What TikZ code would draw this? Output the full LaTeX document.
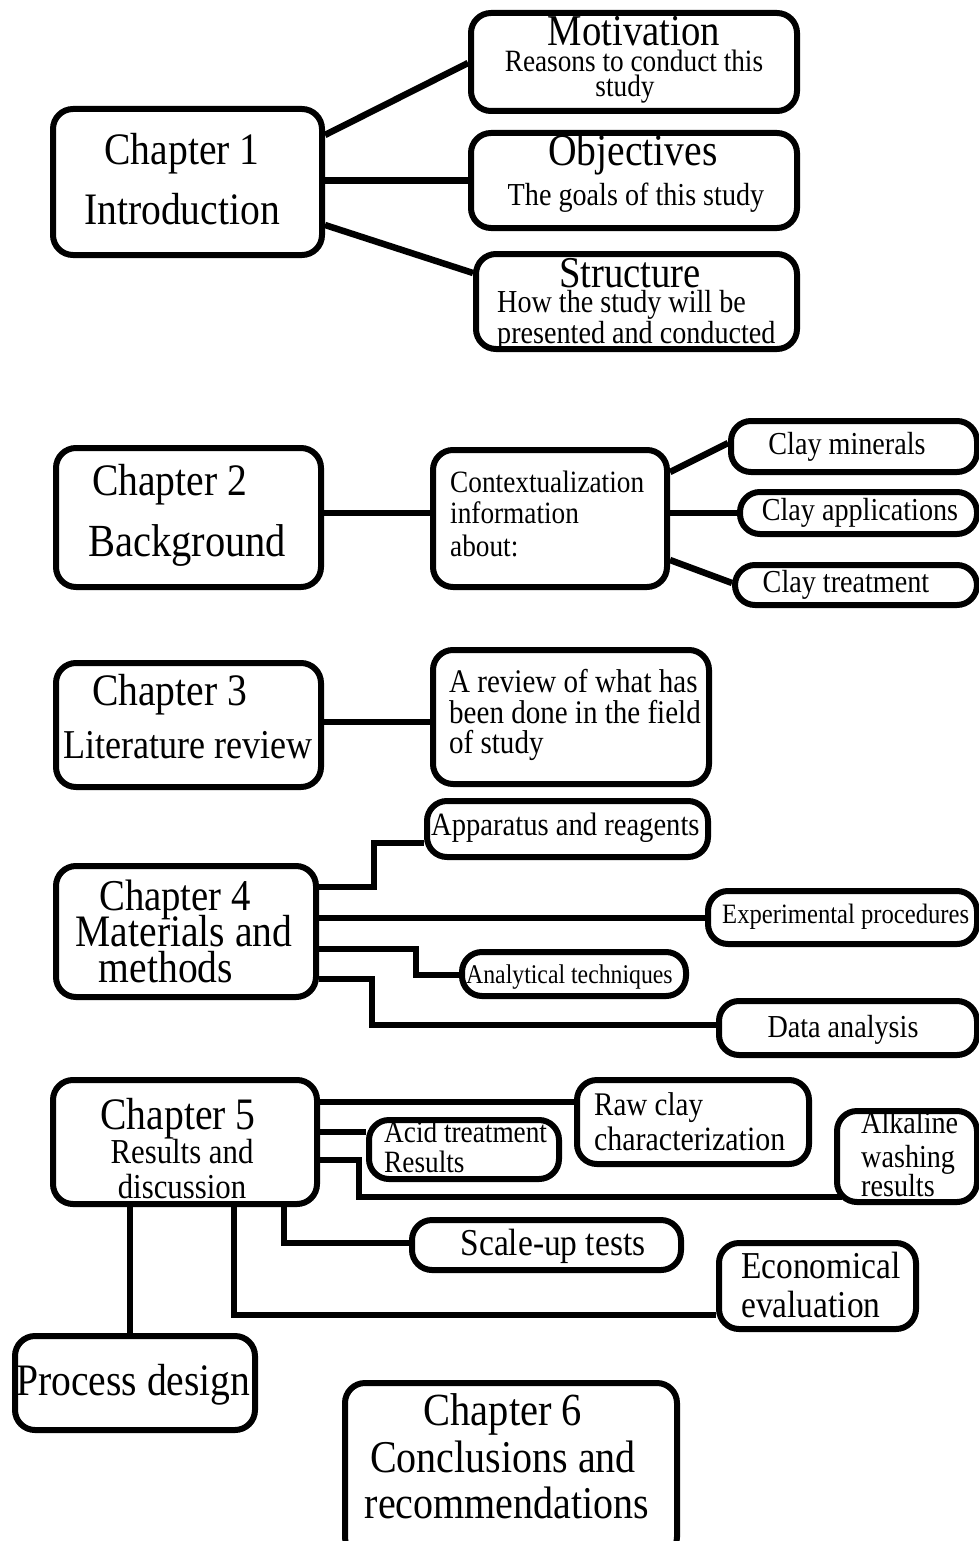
\documentclass[tikz,border=0pt]{standalone}
\usepackage{fontspec}
\setmainfont[FakeStretch=0.88]{Liberation Serif}
\usetikzlibrary{calc}
\newcommand\fsz[1]{\fontsize{#1}{#1}\selectfont}
\tikzset{
  box/.style={draw=black, line width=6pt, rounded corners=20pt, inner sep=0pt, fill=white},
  conn/.style={draw=black, line width=6.5pt},
  txt/.style={inner sep=0pt, text=black, anchor=base},
  txtl/.style={inner sep=0pt, text=black, anchor=base west},
}
\begin{document}
\begin{tikzpicture}[x=1pt, y=-1pt]
\useasboundingbox (0,0) rectangle (979,1541);
\fill[white] (0,0) rectangle (979,1541);
\clip (0,0) rectangle (979,1541);

% ---------- boxes ----------
\node[box, minimum width=269pt, minimum height=146pt] (ch1) at (187.5,182) {};
\node[box, minimum width=326pt, minimum height=98pt] (mot) at (634,62) {};
\node[box, minimum width=326pt, minimum height=95pt] (obj) at (634,180.5) {};
\node[box, minimum width=321pt, minimum height=95pt] (str) at (636.5,301.5) {};

\node[box, minimum width=265pt, minimum height=139pt] (ch2) at (188.5,517.5) {};
\node[box, minimum width=234pt, minimum height=137pt] (ctx) at (550,518.5) {};
\node[box, minimum width=246pt, minimum height=51pt] (cmin) at (854,446.5) {};
\node[box, minimum width=237pt, minimum height=42pt] (capp) at (858.5,513) {};
\node[box, minimum width=242pt, minimum height=40pt] (ctr) at (856,585) {};

\node[box, minimum width=265pt, minimum height=124pt] (ch3) at (188.5,725) {};
\node[box, minimum width=276pt, minimum height=134pt] (rev) at (571,717) {};

\node[box, minimum width=260pt, minimum height=131pt] (ch4) at (186,931.5) {};
\node[box, minimum width=281pt, minimum height=56pt] (app) at (567.5,829) {};
\node[box, minimum width=269pt, minimum height=53pt] (exp) at (842.5,917.5) {};
\node[box, minimum width=224pt, minimum height=44pt] (ana) at (574,974) {};
\node[box, minimum width=258pt, minimum height=54pt] (dat) at (848,1028) {};

\node[box, minimum width=264pt, minimum height=124pt] (ch5) at (185,1142) {};
\node[box, minimum width=232pt, minimum height=84pt] (raw) at (693,1122) {};
\node[box, minimum width=190pt, minimum height=59pt] (acid) at (464,1149.5) {};
\node[box, minimum width=140pt, minimum height=91pt] (alk) at (907,1156.5) {};
\node[box, minimum width=269pt, minimum height=50pt] (scl) at (546.5,1245) {};
\node[box, minimum width=197pt, minimum height=86pt] (eco) at (817.5,1286) {};
\node[box, minimum width=240pt, minimum height=94pt] (pd) at (135,1383) {};
\node[box, minimum width=332pt, minimum height=174pt] (ch6) at (511,1470) {};

% ---------- connectors ----------
\draw[conn] ($(ch1.east)+(0,-47)$) -- ($(mot.west)+(0,1)$);
\draw[conn] (obj.west -| ch1.east) -- (obj.west);
\draw[conn] ($(ch1.east)+(0,43)$) -- ($(str.west)+(0,-28.5)$);

\draw[conn] ($(ch2.east)+(0,-4.5)$) -- ($(ctx.west)+(0,-5.5)$);
\draw[conn] ($(ctx.east)+(0,-46.5)$) -- ($(cmin.west)+(0,-3.5)$);
\draw[conn] ($(ctx.east)+(0,-5.5)$) -- (capp.west);
\draw[conn] ($(ctx.east)+(0,41.5)$) -- ($(ctr.west)+(0,-2)$);

\draw[conn] ($(ch3.east)+(0,-3)$) -- ($(rev.west)+(0,5)$);

\draw[conn] ($(ch4.east)+(0,-44.5)$) -- ++(55,0) |- ($(app.west)+(0,14)$);
\draw[conn] ($(ch4.east)+(0,-13.5)$) -- ($(exp.west)+(0,0.5)$);
\draw[conn] ($(ch4.east)+(0,17.5)$) -- ++(97,0) |- ($(ana.west)+(0,1)$);
\draw[conn] ($(ch4.east)+(0,47.5)$) -- ++(53,0) |- ($(dat.west)+(0,-3)$);

\draw[conn] ($(ch5.east)+(0,-40)$) -- ($(raw.west)+(0,-20)$);
\draw[conn] ($(ch5.east)+(0,-10)$) -- ($(acid.west)+(0,-17.5)$);
\draw[conn] ($(ch5.east)+(0,18)$) -- ++(39,0) |- ($(alk.west)+(8,40.5)$);
\draw[conn] ($(ch5.south)+(99,0)$) |- ($(scl.west)+(0,-2)$);
\draw[conn] ($(ch5.south)+(49,0)$) |- ($(eco.west)+(0,29)$);
\draw[conn] ($(ch5.south)+(-55,0)$) -- ($(pd.north)+(-5,0)$);

% ---------- texts ----------
\node[txt, font=\fsz{45}] (t1a) at (182,165) {Chapter 1};
\node[txt, font=\fsz{45}] (t1b) at (182,224) {Introduction};
\node[txt, font=\fsz{44}] (tmot) at (634,46) {Motivation};
\node[txt, font=\fsz{31}] (tmot2) at (634,72) {Reasons to conduct this};
\node[txt, font=\fsz{31}] (tmot3) at (625,97) {study};
\node[txt, font=\fsz{45}] (tobj) at (633,166) {Objectives};
\node[txt, font=\fsz{32}] (tobj2) at (636,206) {The goals of this study};
\node[txt, font=\fsz{44}] (tstr) at (630,287) {Structure};
\node[txtl, font=\fsz{32}] (tstr2) at (497,312) {How the study will be};
\node[txtl, font=\fsz{32}] (tstr3) at (497,343) {presented and conducted};

\node[txtl, font=\fsz{45}] (t2a) at (92,495) {Chapter 2};
\node[txtl, font=\fsz{46}] (t2b) at (88,556) {Background};
\node[txtl, font=\fsz{31}] (tctx1) at (450,492) {Contextualization};
\node[txtl, font=\fsz{31}] (tctx2) at (450,523) {information};
\node[txtl, font=\fsz{31}] (tctx3) at (450,556) {about:};
\node[txt, font=\fsz{32}] (tcmin) at (847,454) {Clay minerals};
\node[txt, font=\fsz{32}] (tcapp) at (860,520) {Clay applications};
\node[txt, font=\fsz{32}] (tctr) at (846,592) {Clay treatment};

\node[txtl, font=\fsz{45}] (t3a) at (92,705) {Chapter 3};
\node[txtl, font=\fsz{41}] (t3b) at (63,758) {Literature review};
\node[txtl, font=\fsz{33}] (trev1) at (449,692) {A review of what has};
\node[txtl, font=\fsz{33}] (trev2) at (449,723) {been done in the field};
\node[txtl, font=\fsz{33}] (trev3) at (449,753) {of study};

\node[txt, font=\fsz{44}] (t4a) at (175,910) {Chapter 4};
\node[txt, font=\fsz{45}] (t4b) at (184,946) {Materials and};
\node[txt, font=\fsz{45}] (t4c) at (166,982) {methods};
\node[txtl, font=\fsz{32.5}] (tapp) at (431,835) {Apparatus and reagents};
\node[txtl, font=\fsz{28}] (texp) at (722,923) {Experimental procedures};
\node[txtl, font=\fsz{27}] (tana) at (466,983) {Analytical techniques};
\node[txt, font=\fsz{32}] (tdat) at (843,1037) {Data analysis};

\node[txt, font=\fsz{45}] (t5a) at (178,1129) {Chapter 5};
\node[txt, font=\fsz{35}] (t5b) at (182,1163) {Results and};
\node[txt, font=\fsz{35}] (t5c) at (182,1198) {discussion};
\node[txtl, font=\fsz{33}] (traw1) at (594,1115) {Raw clay};
\node[txtl, font=\fsz{34}] (traw2) at (594,1150) {characterization};
\node[txtl, font=\fsz{31}] (tacid1) at (384,1142) {Acid treatment};
\node[txtl, font=\fsz{31}] (tacid2) at (384,1172) {Results};
\node[txtl, font=\fsz{32}] (talk1) at (861,1133) {Alkaline};
\node[txtl, font=\fsz{32}] (talk2) at (861,1167) {washing};
\node[txtl, font=\fsz{32}] (talk3) at (861,1196) {results};
\node[txt, font=\fsz{38}] (tscl) at (553,1255) {Scale-up tests};
\node[txtl, font=\fsz{38}] (teco1) at (741,1278) {Economical};
\node[txtl, font=\fsz{38}] (teco2) at (741,1317) {evaluation};
\node[txtl, font=\fsz{45}] (tpd) at (16,1395) {Process design};

\node[txt, font=\fsz{46}] (t6a) at (503,1425) {Chapter 6};
\node[txt, font=\fsz{45.5}] (t6b) at (503,1472) {Conclusions and};
\node[txt, font=\fsz{45.5}] (t6c) at (507,1518) {recommendations};
\end{tikzpicture}
\end{document}
